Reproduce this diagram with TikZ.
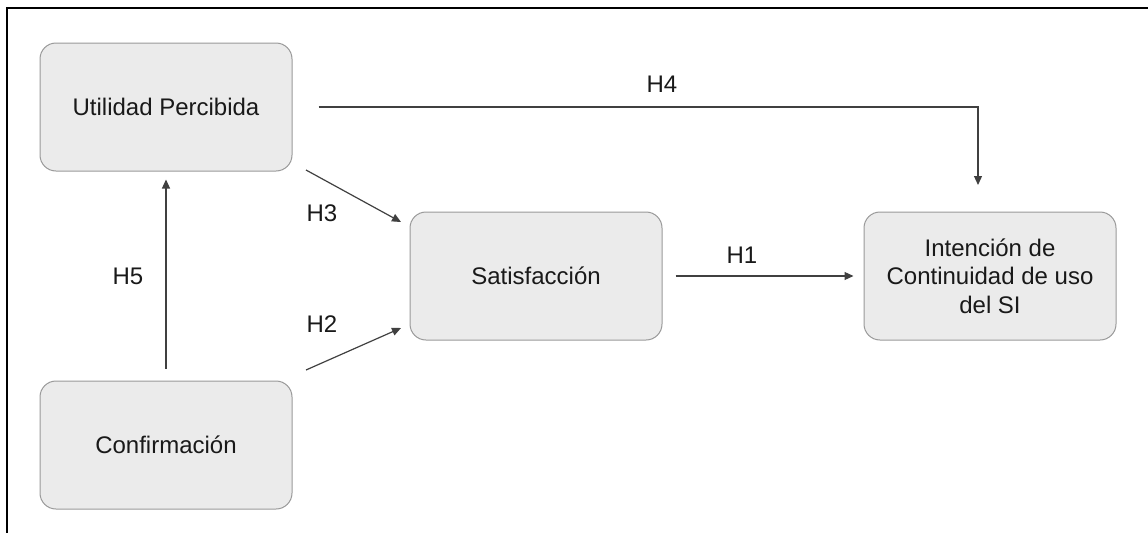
\documentclass[tikz,border=0pt]{standalone}
\usepackage{fontspec}
\setmainfont{Liberation Sans}
\usetikzlibrary{arrows.meta,calc}
\begin{document}
\begin{tikzpicture}[x=1pt,y=-1pt,
  box/.style={draw=black!40, fill=black!8, line width=1pt, rounded corners=16pt,
    minimum width=252pt, minimum height=128pt, align=center, inner sep=0pt,
    font=\fontsize{24}{28.5}\selectfont, text=black!90},
  conn/.style={draw=black!75, line width=1.2pt, -{Triangle[length=9pt,width=8pt]}},
  lbl/.style={font=\fontsize{24}{28}\selectfont, text=black!90, inner sep=0pt}]
\useasboundingbox (0,0) rectangle (1148,533);
\draw[line width=2pt] (1148,8) -- (7,8) -- (7,533);
\node[box] (up) at (166,107) {Utilidad Percibida};
\node[box] (cf) at (166,445) {Confirmaci\'on};
\node[box] (sa) at (536,276) {Satisfacci\'on};
\node[box] (ic) at (990,276) {Intenci\'on de\\Continuidad de uso\\del SI};
\coordinate (h4s) at ($(up.east)+(26,0)$);
\coordinate (h4c) at (978,107);
\coordinate (h4e) at (978,185);
\draw[conn] (h4s) -- (h4c) -- (h4e);
\coordinate (h3s) at (306,170);
\coordinate (h3e) at (401,222);
\draw[conn] (h3s) -- (h3e);
\coordinate (h2s) at (306,370);
\coordinate (h2e) at (401,328);
\draw[conn] (h2s) -- (h2e);
\coordinate (h5s) at ($(cf.north)+(0,-12)$);
\coordinate (h5e) at ($(up.south)+(0,8)$);
\draw[conn] (h5s) -- (h5e);
\coordinate (h1s) at ($(sa.east)+(13,0)$);
\coordinate (h1e) at ($(ic.west)+(-10,0)$);
\draw[conn] (h1s) -- (h1e);
\node[lbl] (l4) at (662,84) {H4};
\node[lbl] (l3) at (322,213) {H3};
\node[lbl] (l2) at (322,324) {H2};
\node[lbl] (l5) at (128,276) {H5};
\node[lbl] (l1) at (742,255) {H1};
\end{tikzpicture}
\end{document}
